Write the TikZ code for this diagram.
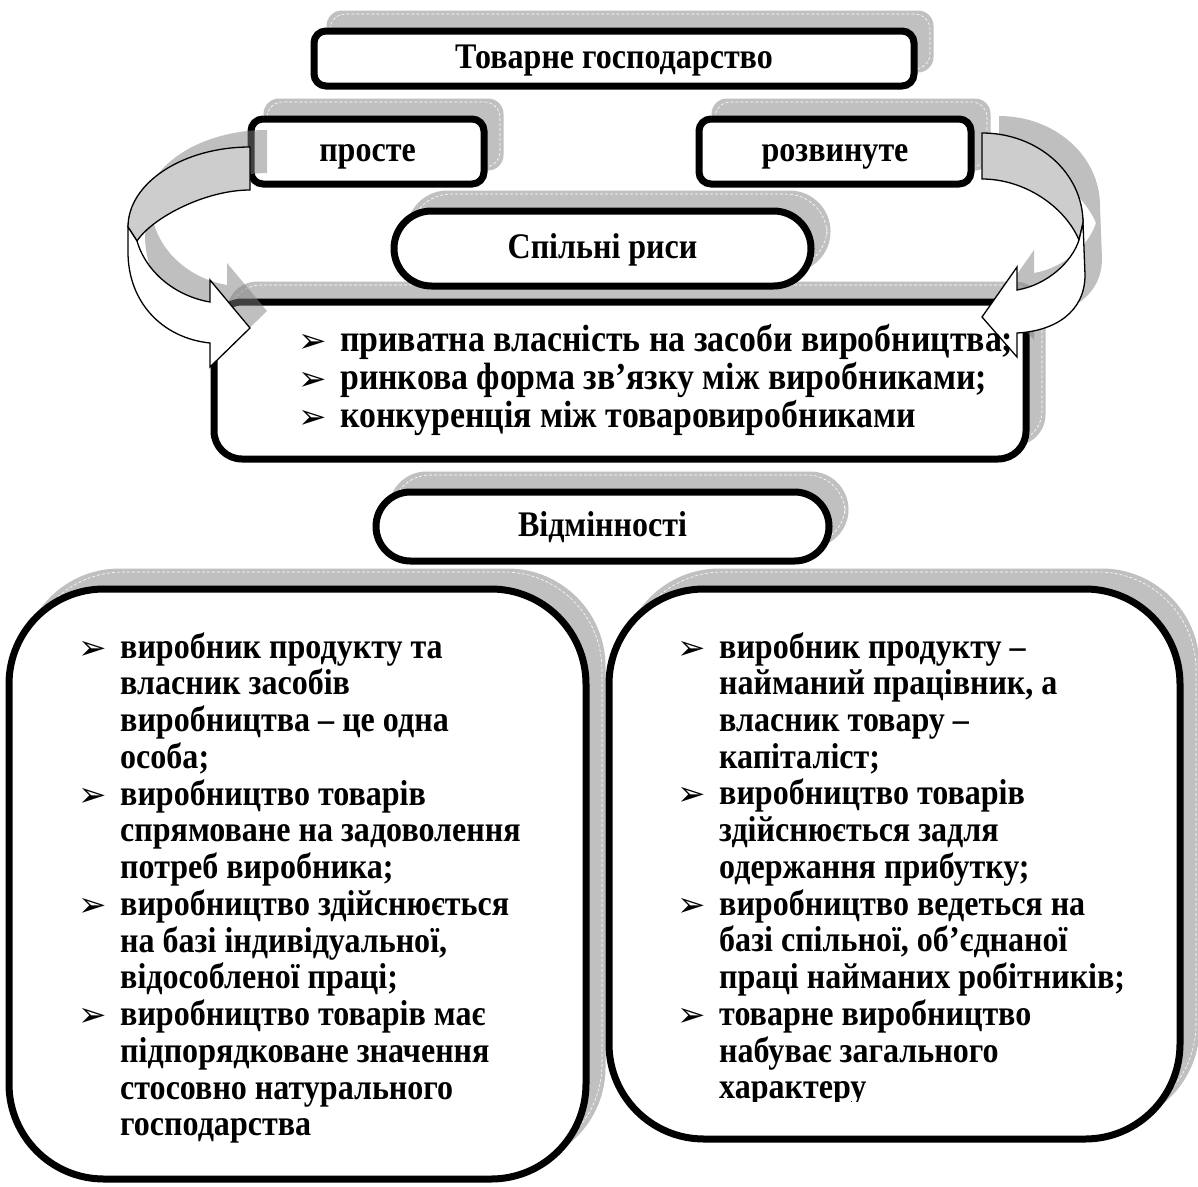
\documentclass[tikz,border=0pt]{standalone}
\usepackage{fontspec}
\setmainfont{Liberation Serif}[FakeStretch=0.89]
\newfontfamily\symfont{DejaVu Sans}
\definecolor{shgray}{RGB}{192,192,192}
\definecolor{bandgray}{RGB}{205,205,205}
\newcommand\bul{\makebox[42pt][l]{\raisebox{-1pt}{\symfont\fontsize{34}{34}\selectfont ➢}}}
\newcommand\ind{\hspace*{42pt}}
\newcommand\shadowbox[5]{%
  \fill[shgray, rounded corners=#5] ({#1+16-#3/2-3.5},{#2-17-#4/2-3.5}) rectangle ({#1+16+#3/2+3.5},{#2-17+#4/2+3.5});
  \draw[white, line width=0.6pt, dash pattern=on 3pt off 2pt, rounded corners=#5] ({#1+16-#3/2},{#2-17-#4/2}) rectangle ({#1+16+#3/2},{#2-17+#4/2});}
\begin{document}
\begin{tikzpicture}[x=1pt,y=-1pt,
  frame/.style={draw=black, line width=7pt, fill=white, inner sep=0pt, text height=20pt, text depth=0pt, font=\fontsize{36}{36}\selectfont\bfseries},
  listtext/.style={anchor=base west, inner sep=0pt, font=\fontsize{36}{36.7}\selectfont\bfseries},
  arrowline/.style={draw=black, line width=1.3pt, line join=miter},
  ashadow/.style={fill=black!50, fill opacity=0.5},
  lback/.style={insert path={(250,147) .. controls (183,147) and (128,183) .. (128,227) -- (137,241) .. controls (152,218) and (205,190) .. (250,190) -- cycle}},
  lfront/.style={insert path={(128,227) -- (128,252) .. controls (128,302) and (162,338) .. (210,343) -- (210,367) -- (250,328) -- (210,280) -- (210,302) .. controls (175,296) and (146,272) .. (137,241) -- cycle}},
  rback/.style={insert path={(982,133) .. controls (1038,133) and (1083,173) .. (1083,223) -- (1079,240) .. controls (1065,207) and (1025,179) .. (982,179) -- cycle}},
  rfront/.style={insert path={(1083,223) -- (1085,275) .. controls (1085,312) and (1055,331) .. (1017,333) -- (1017,357) -- (982,317) -- (1017,267) -- (1017,290) .. controls (1047,285) and (1072,262) .. (1079,240) -- cycle}},
]
\useasboundingbox (0,0) rectangle (1198,1186);
\fill[white] (0,0) rectangle (1198,1186);

% shadows of boxes
\shadowbox{614}{58.5}{600}{55}{15.5pt}
\shadowbox{367.5}{151.5}{233}{65}{15.5pt}
\shadowbox{835}{151.5}{272}{65}{15.5pt}
\shadowbox{602.5}{248.5}{417}{75}{41pt}
\shadowbox{620}{380.5}{812}{157}{31pt}
\shadowbox{602.5}{526.5}{453}{69}{38pt}
\shadowbox{297.5}{884}{577}{590}{98pt}
\shadowbox{894.5}{864}{571}{550}{98pt}

% boxes
\node[frame, rounded corners=12pt, minimum width=600pt, minimum height=55pt] (top) at (614,58.5) {Товарне господарство};
\node[frame, rounded corners=12pt, minimum width=233pt, minimum height=65pt] (simple) at (367.5,151.5) {просте};
\node[frame, rounded corners=12pt, minimum width=272pt, minimum height=65pt] (developed) at (835,151.5) {розвинуте};
\node[frame, rounded corners=37.5pt, minimum width=417pt, minimum height=75pt] (common) at (602.5,248.5) {Спільні риси};
\node[frame, rounded corners=28pt, minimum width=812pt, minimum height=157pt] (commonbox) at (620,380.5) {};
\node[frame, rounded corners=34.5pt, minimum width=453pt, minimum height=69pt] (diff) at (602.5,526.5) {Відмінності};
\node[frame, rounded corners=95pt, minimum width=577pt, minimum height=590pt] (leftbox) at (297.5,884) {};
\node[frame, rounded corners=95pt, minimum width=571pt, minimum height=550pt] (rightbox) at (894.5,864) {};

% arrow shadows
\begin{scope}[shift={(17,-17)}]
\path[ashadow, lback, lfront];
\path[ashadow, rback, rfront];
\end{scope}
% arrows
\path[arrowline, fill=bandgray, lback];
\path[arrowline, fill=white, lfront];
\path[arrowline, fill=bandgray, rback];
\path[arrowline, fill=white, rfront];

% common list
\node[listtext, font=\fontsize{38}{37.5}\selectfont\bfseries] (commonlist) at (298,351) {\begin{tabular}[t]{@{}l@{}}
\bul приватна власність на засоби виробництва;\\
\bul ринкова форма зв’язку між виробниками;\\
\bul конкуренція між товаровиробниками
\end{tabular}};

% left list
\node[listtext] (leftlist) at (78,658) {\begin{tabular}[t]{@{}l@{}}
\bul виробник продукту та\\
\ind власник засобів\\
\ind виробництва – це одна\\
\ind особа;\\
\bul виробництво товарів\\
\ind спрямоване на задоволення\\
\ind потреб виробника;\\
\bul виробництво здійснюється\\
\ind на базі індивідуальної,\\
\ind відособленої праці;\\
\bul виробництво товарів має\\
\ind підпорядковане значення\\
\ind стосовно натурального\\
\ind господарства
\end{tabular}};

% right list (last line clipped as in the original)
\begin{scope}
\clip (0,0) rectangle (1198,1101);
\node[listtext] (rightlist) at (677,658) {\begin{tabular}[t]{@{}l@{}}
\bul виробник продукту –\\
\ind найманий працівник, а\\
\ind власник товару –\\
\ind капіталіст;\\
\bul виробництво товарів\\
\ind здійснюється задля\\
\ind одержання прибутку;\\
\bul виробництво ведеться на\\
\ind базі спільної, об’єднаної\\
\ind праці найманих робітників;\\
\bul товарне виробництво\\
\ind набуває загального\\
\ind характеру
\end{tabular}};
\end{scope}
\end{tikzpicture}
\end{document}
